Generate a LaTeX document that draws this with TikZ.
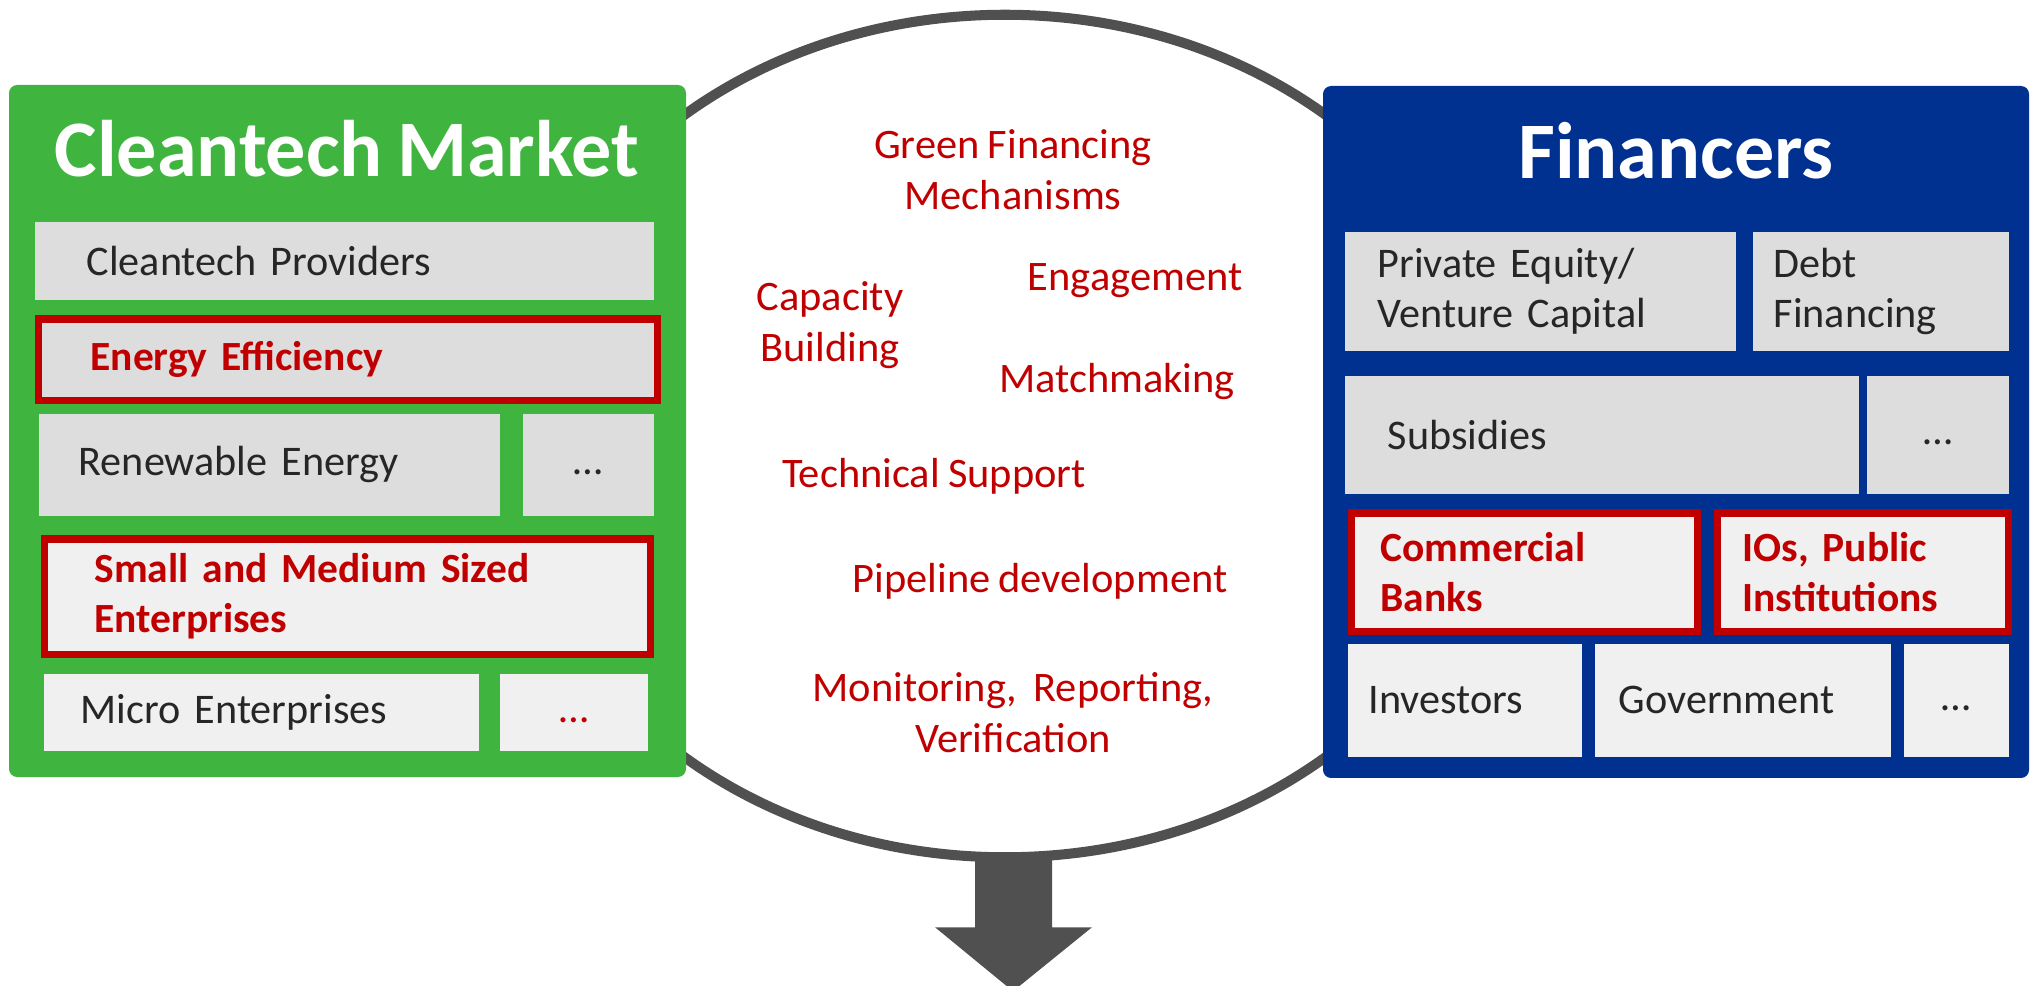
\documentclass[tikz,border=0pt]{standalone}
\usepackage{fontspec}
\setmainfont{Carlito}[WordSpace=0.8]
\newfontfamily\widefont[FakeStretch=1.01,WordSpace=0.85]{Carlito}
\usetikzlibrary{shapes.geometric,calc}

\definecolor{mktgreen}{RGB}{63,180,62}
\definecolor{finblue}{RGB}{0,48,144}
\definecolor{hlred}{RGB}{192,0,0}
\definecolor{cellgray}{RGB}{221,221,221}
\definecolor{celllight}{RGB}{240,240,240}
\definecolor{textdark}{RGB}{38,38,38}
\definecolor{arcgray}{RGB}{80,80,80}

% one cell of a panel: name, x1, y1, x2, y2 (in px), style, text indent (px), text
\newcommand\panelcell[8]{%
  \pgfmathsetmacro\cw{(#4-#2)*0.284528}%
  \pgfmathsetmacro\ch{(#5-#3)*0.284528}%
  \pgfmathsetmacro\tw{(#4-#2-2*#7)*0.284528}%
  \pgfmathsetmacro\ix{#7*0.284528}%
  \node[#6, minimum width=\cw pt, minimum height=\ch pt, text width=\tw pt,
        inner xsep=\ix pt, inner ysep=0pt, anchor=north west] (#1) at (#2,#3) {#8};}

\tikzset{
  panel/.style={rounded corners=2.3pt},
  cell/.style={font=\fontsize{12}{14.3}\selectfont, text=textdark, align=left},
  plaincell/.style={cell, fill=cellgray},
  lightcell/.style={cell, fill=celllight},
  hlcell/.style={cell, draw=hlred, line width=2pt, text=hlred, font=\bfseries\fontsize{11.8}{14.3}\selectfont},
  dotcell/.style={align=center},
  title/.style={text=white, font=\bfseries\fontsize{22.8}{27}\selectfont, anchor=base, inner sep=0pt},
  activity/.style={text=hlred, font=\widefont\fontsize{11.95}{14.5}\selectfont, align=center, inner sep=0pt}
}

\begin{document}
\begin{tikzpicture}[x=0.01cm, y=-0.01cm]
\useasboundingbox (0,0) rectangle (2034,986);

% central support ring and outgoing arrow
\node[ellipse, draw=arcgray, line width=2.85pt, fill=white, inner sep=0pt,
      minimum width=9.9cm, minimum height=8.42cm] (hub) at (1005,436) {};
\fill[arcgray] ($(hub.south)+(-30,-7)$) -- ++(0,72) -- ++(-40,0) -- ++(78,64)
  -- ++(79,-64) -- ++(-40,0) -- ++(0,-72) -- cycle;

% support activities
\node[activity] (gfm) at (1013,170) {Green Financing\\Mechanisms};
\node[activity] (cap) at (830,325) {Capacity\\Building};
\node[activity, anchor=base] (eng) at (1135,291) {Engagement};
\node[activity, anchor=base] (match) at (1117,393) {Matchmaking};
\node[activity, anchor=base] (tech) at (934,488) {Technical Support};
\node[activity, anchor=base] (pipe) at (1040,593) {Pipeline development};
\node[activity] (mrv) at (1013,713) {Monitoring,~ Reporting,\\Verification};

% Cleantech market panel
\fill[mktgreen, panel] (9,85) rectangle (686,777);
\node[title] (mkttitle) at (347,177) {Cleantech Market};
\panelcell{cprov}{34}{221}{653}{299}{plaincell}{52}{Cleantech Providers}
\panelcell{eeff}{34.5}{315.5}{653.5}{396.5}{hlcell, fill=cellgray}{52.5}{Energy Efficiency}
\panelcell{renew}{38}{413}{499}{515}{plaincell}{40}{Renewable Energy}
\panelcell{rdots}{522}{413}{653}{515}{plaincell, dotcell}{10}{\vphantom{Ag}…}
\panelcell{sme}{40.5}{535.5}{646.5}{650.5}{hlcell, fill=celllight}{50.5}{Small and Medium Sized\\Enterprises}
\panelcell{micro}{43}{673}{478}{750}{lightcell}{37}{Micro Enterprises}
\panelcell{mdots}{499}{673}{647}{750}{lightcell, dotcell, text=hlred}{10}{\vphantom{Ag}…}

% Financers panel
\fill[finblue, panel] (1323,86) rectangle (2029,778);
\node[title] (fintitle) at (1676,179) {Financers};
\panelcell{pevc}{1344}{231}{1735}{350}{plaincell}{33}{Private Equity/\\Venture Capital}
\panelcell{debt}{1752}{231}{2008}{350}{plaincell}{21}{Debt\\Financing}
\panelcell{subs}{1344}{375}{1858}{493}{plaincell}{43}{Subsidies}
\panelcell{sdots}{1866}{375}{2008}{493}{plaincell, dotcell}{10}{\vphantom{Ag}…}
\panelcell{cbank}{1347.5}{509.5}{1693.5}{627.5}{hlcell, fill=celllight}{29.5}{Commercial\\Banks}
\panelcell{ios}{1713.5}{509.5}{2004.5}{627.5}{hlcell, fill=celllight}{25.5}{IOs, Public\\Institutions}
\panelcell{invest}{1347}{643}{1581}{756}{lightcell}{21}{Investors}
\panelcell{govt}{1594}{643}{1890}{756}{lightcell}{24}{Government}
\panelcell{gdots}{1903}{643}{2008}{756}{lightcell, dotcell}{10}{\vphantom{Ag}…}
\end{tikzpicture}
\end{document}
